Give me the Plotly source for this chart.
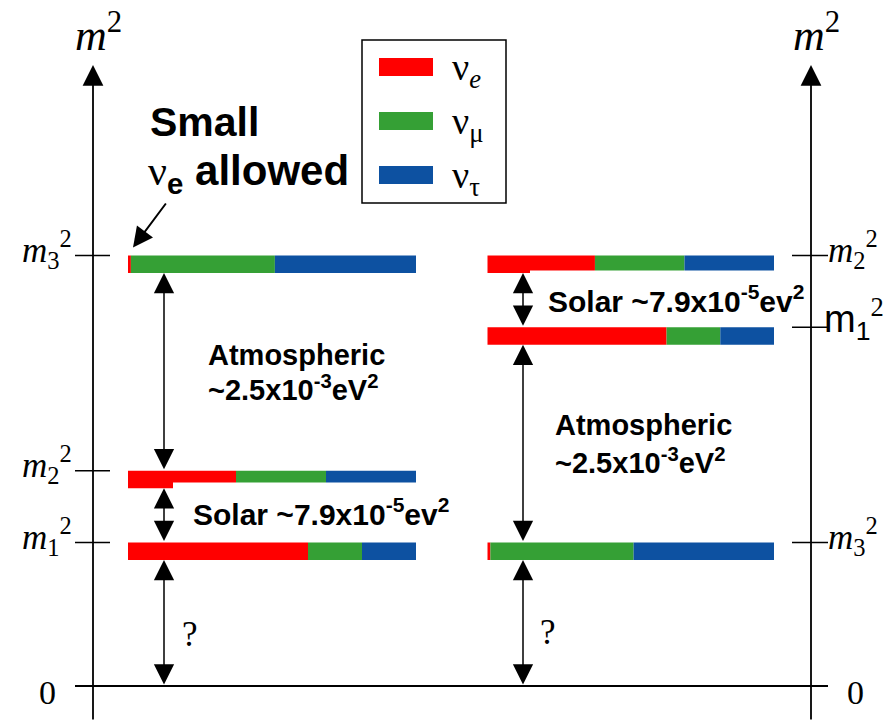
import plotly.graph_objects as go

# ---------------- data ----------------
flavor_labels = ["ν<sub><i>e</i></sub>", "ν<sub>μ</sub>", "ν<sub>τ</sub>"]
flavor_colors = ["#ff0000", "#35a035", "#0d51a1"]
state_index = [1, 2, 3]                      # m1, m2, m3
frac_e   = [0.625, 0.375, 0.01]              # flavour content of m1, m2, m3
frac_mu  = [0.1875, 0.3125, 0.50]
frac_tau = [0.1875, 0.3125, 0.49]
normal_m2   = [1.0, 1.5, 3.0]                # arbitrary m^2 units, normal ordering
inverted_m2 = [2.5, 3.0, 1.0]                # inverted ordering
atm_text = ["<b>Atmospheric</b>", "<b>~2.5x10<sup>-3</sup>eV<sup>2</sup></b>"]
sol_text = "<b>Solar ~7.9x10<sup>-5</sup>ev<sup>2</sup></b>"

# ---------------- layout geometry ----------------
W, H = 889, 721
Y0_PX, PX_PER_UNIT = 686.0, 143.5


def Y(px):
    return (Y0_PX - px) / PX_PER_UNIT


T = 17.5 / PX_PER_UNIT          # bar thickness (y units)
SERIF = "Liberation Serif"
SANS = "Liberation Sans"
panels = [
    dict(levels=normal_m2, bx0=128, bw=288, arrow_x=164, axis_x=93, tick=(75, 110),
         lab_x=74, lab_anchor="right", q=(190, 634)),
    dict(levels=inverted_m2, bx0=487.5, bw=286.5, arrow_x=523, axis_x=811, tick=(792, 828),
         lab_x=826, lab_anchor="left", q=(548, 632)),
]

fig = go.Figure()
fracs = [frac_e, frac_mu, frac_tau]

for p in panels:
    starts = [p["bx0"]] * 3
    for f, col in zip(fracs, flavor_colors):
        widths = [fi * p["bw"] for fi in f]
        fig.add_trace(go.Bar(
            orientation="h", y=[lv - T / 2 for lv in p["levels"]], x=widths, base=starts,
            width=T, marker=dict(color=col, line=dict(width=0)), showlegend=False,
            hoverinfo="skip"))
        starts = [s + w for s, w in zip(starts, widths)]

shapes = []
ann = []


def line(x0, y0, x1, y1, w=1.6):
    shapes.append(dict(type="line", x0=x0, y0=y0, x1=x1, y1=y1, xref="x", yref="y",
                       line=dict(color="black", width=w)))


def arrow(x, y, ax, ay, both=False, size=2.7, w=1.5, head=2):
    d = dict(x=x, y=y, ax=ax, ay=ay, xref="x", yref="y", axref="x", ayref="y", text="",
             showarrow=True, arrowhead=head, arrowsize=size, arrowwidth=w, arrowcolor="black")
    if both:
        d.update(arrowside="end+start", startarrowhead=head, startarrowsize=size)
    ann.append(d)


def text(x, y, s, size, family=SANS, xanchor="left", color="black"):
    ann.append(dict(x=x, y=y, xref="x", yref="y", text=s, showarrow=False, xanchor=xanchor,
                    yanchor="middle", font=dict(family=family, size=size, color=color)))


# zero line
line(75, 0, 828, 0, 2)

# white label boxes (as in the original slide)
shapes.append(dict(type="rect", x0=173, x1=475, y0=Y(540), y1=Y(482.5), xref="x", yref="y",
                   fillcolor="white", line=dict(width=0), layer="above"))
shapes.append(dict(type="rect", x0=530, x1=800, y0=Y(322), y1=Y(270.5), xref="x", yref="y",
                   fillcolor="white", line=dict(width=0), layer="above"))

for k, p in enumerate(panels):
    ax_x = p["axis_x"]
    # vertical axis with arrow
    arrow(ax_x, Y(65), ax_x, Y(H), size=2.3, w=1.8)
    text(ax_x + 5, Y(32), "<i>m</i><sup>2</sup>", 44, SERIF, "center")
    # ticks + labels
    for i, lv in zip(state_index, p["levels"]):
        line(p["tick"][0], lv, p["tick"][1], lv, 1.6)
        if k == 1 and i == 1:
            lab = ('<span style="font-family:Liberation Sans">m<sub>1</sub></span>'
                   '<sup>2</sup>')
            text(p["lab_x"] - 4, lv + 8 / PX_PER_UNIT, lab, 38, SERIF, p["lab_anchor"])
        else:
            lab = "<i>m</i><sub>%d</sub><sup>2</sup>" % i
            text(p["lab_x"], lv + 6 / PX_PER_UNIT, lab, 35, SERIF, p["lab_anchor"])
    # zero labels
    text(47 if k == 0 else 855, Y(692), "0", 34, SERIF, "center")
    # double arrows between consecutive levels
    lv_sorted = sorted(p["levels"])
    prev = 0.0
    for lv in lv_sorted:
        arrow(p["arrow_x"], lv - T, p["arrow_x"], prev, both=True)
        prev = lv
    text(p["q"][0], Y(p["q"][1]), "?", 35, SERIF, "center")

# Atmospheric / Solar labels
text(206, Y(355), atm_text[0], 29)
text(206, Y(388), atm_text[1], 29)
text(553, Y(425), atm_text[0], 29)
text(553, Y(461), atm_text[1], 29)
text(191, Y(512), sol_text, 30)
text(546, Y(299), sol_text, 30)

# "Small nu_e allowed"
text(148, Y(122), "<b>Small</b>", 41)
text(146, Y(173), '<span style="font-family:Liberation Serif">ν</span><sub><b>e</b></sub> <b>allowed</b>', 42)
arrow(panels[0]["bx0"] + 5, normal_m2[2] + 8 / PX_PER_UNIT, 167, Y(202), size=2.0, w=2)

# legend box
shapes.append(dict(type="rect", x0=362, x1=506, y0=Y(203), y1=Y(40), xref="x", yref="y",
                   line=dict(color="black", width=1.5), fillcolor="rgba(0,0,0,0)"))
for j, (lab, col) in enumerate(zip(flavor_labels, flavor_colors)):
    cy = 67 + 54 * j
    shapes.append(dict(type="rect", x0=379, x1=433, y0=Y(cy + 9), y1=Y(cy - 9), xref="x",
                       yref="y", fillcolor=col, line=dict(width=0)))
    text(450, Y(cy + 3), lab, 38, SERIF)

fig.update_layout(
    width=W, height=H, margin=dict(l=0, r=0, t=0, b=0, pad=0),
    paper_bgcolor="white", plot_bgcolor="white", barmode="overlay",
    xaxis=dict(range=[0, W], visible=False, fixedrange=True),
    yaxis=dict(range=[Y(H), Y(0)], visible=False, fixedrange=True),
    shapes=shapes, annotations=ann, showlegend=False,
)
fig.write_html("out.html")
